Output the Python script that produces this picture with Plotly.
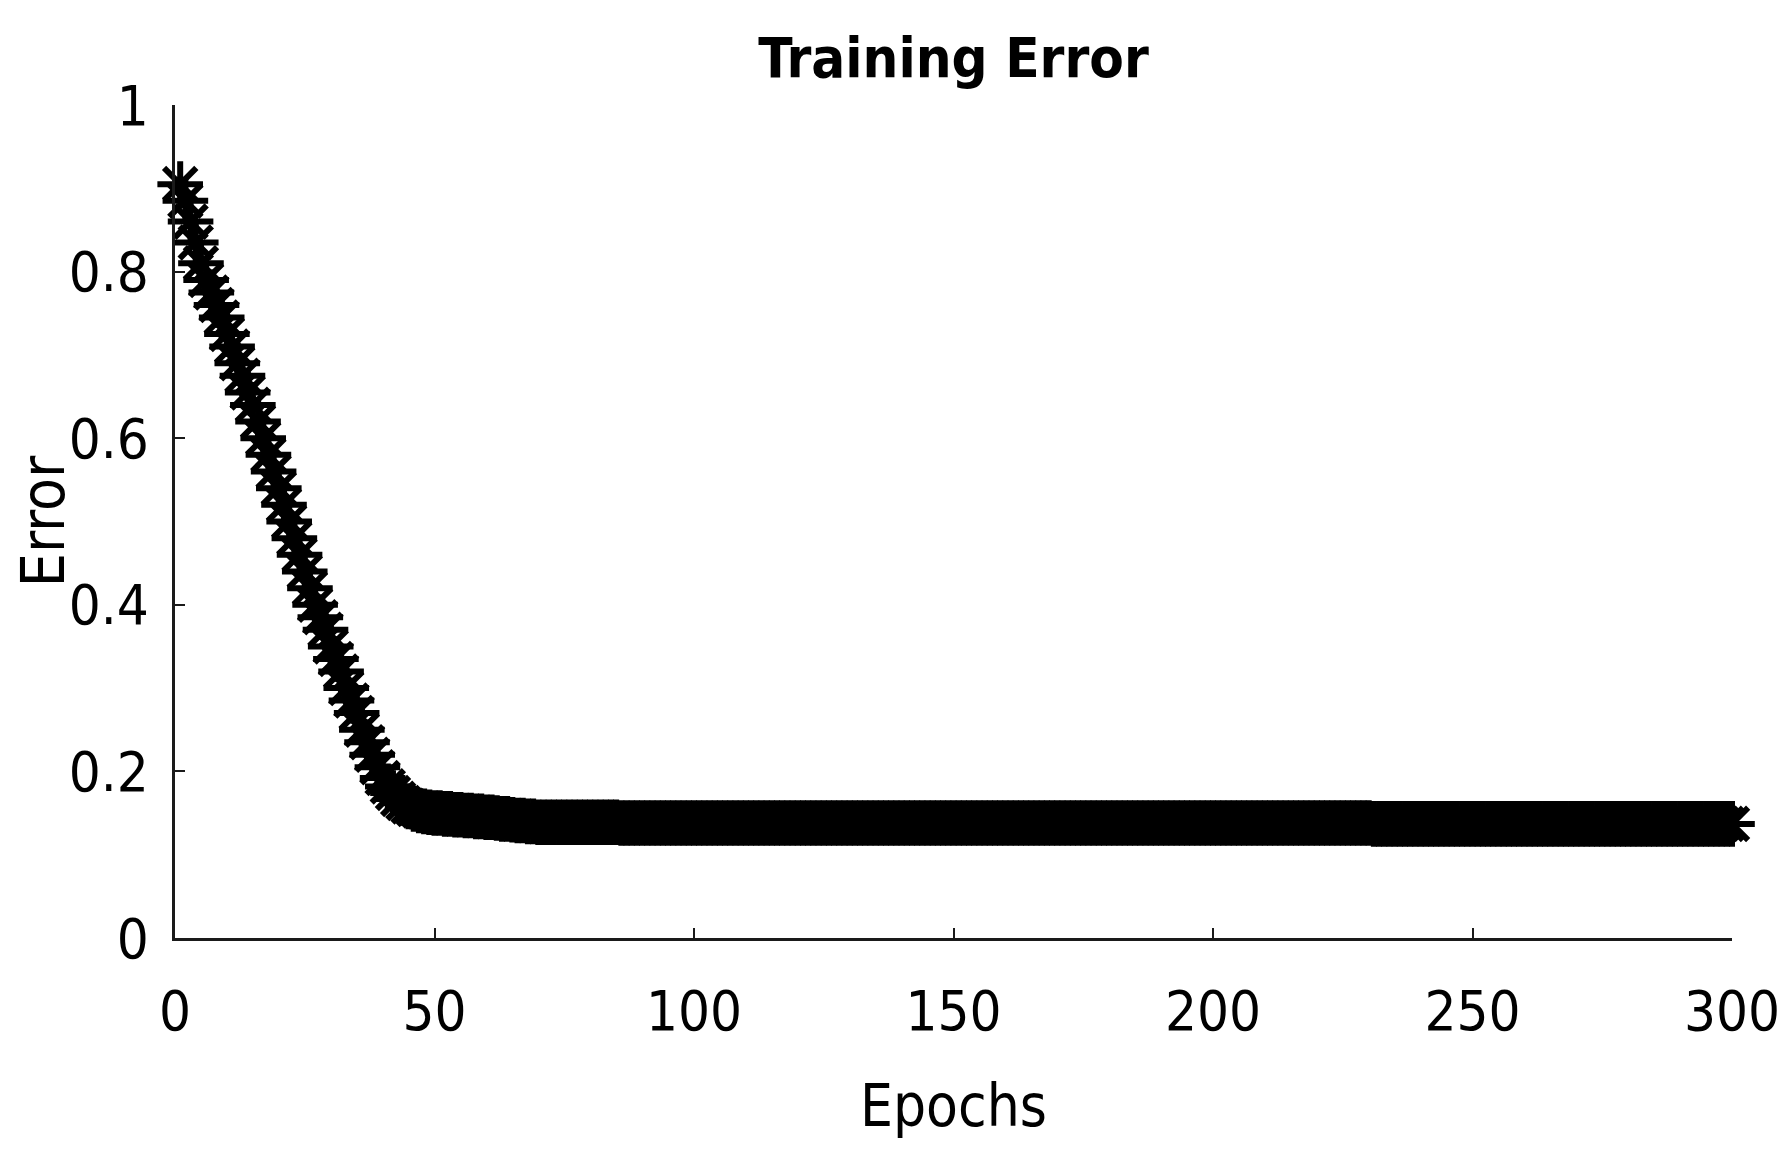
import plotly.graph_objects as go

# Epoch numbers and training error
epochs = list(range(1, 301))
error = [
    0.905, 0.885, 0.860, 0.835, 0.810, 0.790, 0.775, 0.760, 0.745, 0.725,
    0.710, 0.690, 0.675, 0.655, 0.640, 0.620, 0.600, 0.580, 0.560, 0.540,
    0.520, 0.500, 0.480, 0.460, 0.440, 0.420, 0.400, 0.385, 0.370, 0.350,
    0.335, 0.320, 0.300, 0.285, 0.270, 0.250, 0.235, 0.220, 0.205, 0.192,
    0.182, 0.174, 0.167, 0.162, 0.158, 0.155, 0.153, 0.152, 0.151, 0.150,
    0.150, 0.149, 0.149, 0.148, 0.148, 0.147, 0.147, 0.146, 0.146, 0.145,
    0.145, 0.144, 0.143, 0.143, 0.142, 0.141, 0.141, 0.140, 0.140, 0.139,
    0.139, 0.139, 0.139, 0.139, 0.139, 0.139, 0.139, 0.139, 0.139, 0.139,
    0.139, 0.139, 0.139, 0.139, 0.139, 0.138, 0.138, 0.138, 0.138, 0.138,
    0.138, 0.138, 0.138, 0.138, 0.138, 0.138, 0.138, 0.138, 0.138, 0.138,
    0.138, 0.138, 0.138, 0.138, 0.138, 0.138, 0.138, 0.138, 0.138, 0.138,
    0.138, 0.138, 0.138, 0.138, 0.138, 0.138, 0.138, 0.138, 0.138, 0.138,
    0.138, 0.138, 0.138, 0.138, 0.138, 0.138, 0.138, 0.138, 0.138, 0.138,
    0.138, 0.138, 0.138, 0.138, 0.138, 0.138, 0.138, 0.138, 0.138, 0.138,
    0.138, 0.138, 0.138, 0.138, 0.138, 0.138, 0.138, 0.138, 0.138, 0.138,
    0.138, 0.138, 0.138, 0.138, 0.138, 0.138, 0.138, 0.138, 0.138, 0.138,
    0.138, 0.138, 0.138, 0.138, 0.138, 0.138, 0.138, 0.138, 0.138, 0.138,
    0.138, 0.138, 0.138, 0.138, 0.138, 0.138, 0.138, 0.138, 0.138, 0.138,
    0.138, 0.138, 0.138, 0.138, 0.138, 0.138, 0.138, 0.138, 0.138, 0.138,
    0.138, 0.138, 0.138, 0.138, 0.138, 0.138, 0.138, 0.138, 0.138, 0.138,
    0.138, 0.138, 0.138, 0.138, 0.138, 0.138, 0.138, 0.138, 0.138, 0.138,
    0.138, 0.138, 0.138, 0.138, 0.138, 0.138, 0.138, 0.138, 0.138, 0.138,
    0.138, 0.138, 0.138, 0.138, 0.138, 0.138, 0.138, 0.138, 0.138, 0.138,
    0.137, 0.137, 0.137, 0.137, 0.137, 0.137, 0.137, 0.137, 0.137, 0.137,
    0.137, 0.137, 0.137, 0.137, 0.137, 0.137, 0.137, 0.137, 0.137, 0.137,
    0.137, 0.137, 0.137, 0.137, 0.137, 0.137, 0.137, 0.137, 0.137, 0.137,
    0.137, 0.137, 0.137, 0.137, 0.137, 0.137, 0.137, 0.137, 0.137, 0.137,
    0.137, 0.137, 0.137, 0.137, 0.137, 0.137, 0.137, 0.137, 0.137, 0.137,
    0.137, 0.137, 0.137, 0.137, 0.137, 0.137, 0.137, 0.137, 0.137, 0.137,
    0.137, 0.137, 0.137, 0.137, 0.137, 0.137, 0.137, 0.137, 0.137, 0.137,
]
x_ticks = [0, 50, 100, 150, 200, 250, 300]
y_ticks = [0, 0.2, 0.4, 0.6, 0.8, 1]
y_tick_labels = ["0", "0.2", "0.4", "0.6", "0.8", "1"]

font = "Liberation Sans Narrow, DejaVu Sans Condensed, Arial Narrow, sans-serif"

fig = go.Figure()
fig.add_trace(go.Scatter(
    x=epochs, y=error, mode="markers", cliponaxis=False,
    marker=dict(symbol="asterisk-open", size=38, color="black",
                line=dict(color="black", width=6)),
    showlegend=False,
))

axis_common = dict(
    showline=True, linecolor="#1a1a1a", linewidth=3, mirror=False,
    ticks="inside", ticklen=10, tickwidth=2, tickcolor="#1a1a1a",
    showgrid=False, zeroline=False, automargin=False,
    tickfont=dict(family=font, size=56, color="black"),
)

fig.update_xaxes(
    range=[0, 300], tickvals=x_ticks, ticklabelstandoff=22,
    title=dict(text="Epochs", font=dict(family=font, size=58, color="black"), standoff=44),
    **axis_common,
)
fig.update_yaxes(
    range=[0, 1], tickvals=y_ticks, ticktext=y_tick_labels, ticklabelstandoff=12,
    title=dict(text="Error", font=dict(family=font, size=60, color="black"), standoff=12),
    **axis_common,
)

fig.update_layout(
    width=1789, height=1158,
    margin=dict(l=167, r=65, t=97, b=228),
    paper_bgcolor="white", plot_bgcolor="white",
    title=dict(text="<b>Training Error</b>", x=0.5, xref="paper", xanchor="center",
               y=0.957, yref="container", yanchor="middle",
               font=dict(family=font, size=56, color="black")),
)

fig.write_html("out.html")
